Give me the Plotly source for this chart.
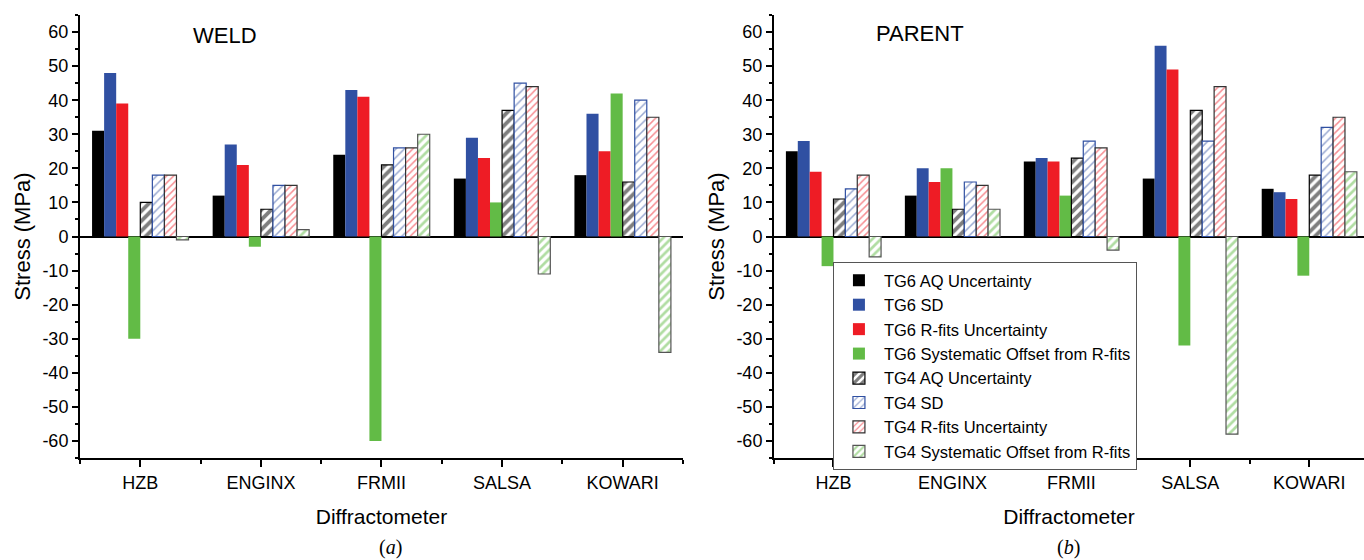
import plotly.graph_objects as go

instruments = ["HZB", "ENGINX", "FRMII", "SALSA", "KOWARI"]
series_names = [
    "TG6 AQ Uncertainty",
    "TG6 SD",
    "TG6 R-fits Uncertainty",
    "TG6 Systematic Offset from R-fits",
    "TG4 AQ Uncertainty",
    "TG4 SD",
    "TG4 R-fits Uncertainty",
    "TG4 Systematic Offset from R-fits",
]

# WELD panel (a)
weld_tg6_aq = [31, 12, 24, 17, 18]
weld_tg6_sd = [48, 27, 43, 29, 36]
weld_tg6_rfits = [39, 21, 41, 23, 25]
weld_tg6_offset = [-30, -3, -60, 10, 42]
weld_tg4_aq = [10, 8, 21, 37, 16]
weld_tg4_sd = [18, 15, 26, 45, 40]
weld_tg4_rfits = [18, 15, 26, 44, 35]
weld_tg4_offset = [-1, 2, 30, -11, -34]

# PARENT panel (b)
parent_tg6_aq = [25, 12, 22, 17, 14]
parent_tg6_sd = [28, 20, 23, 56, 13]
parent_tg6_rfits = [19, 16, 22, 49, 11]
parent_tg6_offset = [-8.7, 20, 12, -32, -11.5]
parent_tg4_aq = [11, 8, 23, 37, 18]
parent_tg4_sd = [14, 16, 28, 28, 32]
parent_tg4_rfits = [18, 15, 26, 44, 35]
parent_tg4_offset = [-6, 8, -4, -58, 19]

y_tick_values = [-60, -50, -40, -30, -20, -10, 0, 10, 20, 30, 40, 50, 60]
y_tick_labels = ["-60", "-50", "-40", "-30", "-20", "-10", "0", "10", "20", "30", "40", "50", "60"]

weld = [weld_tg6_aq, weld_tg6_sd, weld_tg6_rfits, weld_tg6_offset,
        weld_tg4_aq, weld_tg4_sd, weld_tg4_rfits, weld_tg4_offset]
parent = [parent_tg6_aq, parent_tg6_sd, parent_tg6_rfits, parent_tg6_offset,
          parent_tg4_aq, parent_tg4_sd, parent_tg4_rfits, parent_tg4_offset]

BLACK = "#000000"
BLUE = "#3050A2"
RED = "#EE1C25"
GREEN = "#62BB46"

styles = [
    dict(color=BLACK, line=dict(width=0)),
    dict(color=BLUE, line=dict(width=0)),
    dict(color=RED, line=dict(width=0)),
    dict(color=GREEN, line=dict(width=0)),
    dict(color="white", line=dict(color=BLACK, width=1.2),
         pattern=dict(shape="/", fgcolor=BLACK, bgcolor="white", size=7, solidity=0.55)),
    dict(color="white", line=dict(color=BLUE, width=1.2),
         pattern=dict(shape="/", fgcolor=BLUE, bgcolor="white", size=6, solidity=0.25)),
    dict(color="white", line=dict(color="#333333", width=1.2),
         pattern=dict(shape="/", fgcolor=RED, bgcolor="white", size=5, solidity=0.3)),
    dict(color="white", line=dict(color="#555555", width=1.2),
         pattern=dict(shape="/", fgcolor=GREEN, bgcolor="white", size=6, solidity=0.45)),
]

xpos = list(range(len(instruments)))

fig = go.Figure()
for i, name in enumerate(series_names):
    fig.add_trace(go.Bar(x=xpos, y=weld[i], name=name, marker=styles[i],
                         xaxis="x", yaxis="y", showlegend=False))
for i, name in enumerate(series_names):
    fig.add_trace(go.Bar(x=xpos, y=parent[i], name=name, marker=styles[i],
                         xaxis="x2", yaxis="y2", showlegend=True))

FONT = "Liberation Sans, Arial, sans-serif"

xcommon = dict(
    tickmode="array", tickvals=xpos, ticktext=instruments,
    showline=True, linecolor="black", linewidth=2,
    ticks="outside", ticklen=7, tickwidth=1.5, tickcolor="black",
    minor=dict(tickmode="array", tickvals=[-0.5, 0.5, 1.5, 2.5, 3.5, 4.5],
               ticks="outside", ticklen=4, tickwidth=1.5, tickcolor="black"),
    showgrid=False, zeroline=False,
    tickfont=dict(size=18, family=FONT, color="black"),
    title=dict(text="Diffractometer", font=dict(size=21, family=FONT, color="black"), standoff=18),
)
ycommon = dict(
    range=[-65, 65], tickmode="array", tickvals=y_tick_values, ticktext=y_tick_labels,
    showline=True, linecolor="black", linewidth=2,
    ticks="outside", ticklen=6, tickwidth=1.5, tickcolor="black",
    minor=dict(tickmode="array",
               tickvals=[v + 5 for v in y_tick_values[:-1]] + [-65, 65],
               ticks="outside", ticklen=3, tickwidth=1.5, tickcolor="black"),
    showgrid=False, zeroline=True, zerolinecolor="black", zerolinewidth=1.5,
    tickfont=dict(size=18, family=FONT, color="black"),
    title=dict(text="Stress (MPa)", font=dict(size=22, family=FONT, color="black"), standoff=6),
)

fig.update_layout(
    width=1364, height=560,
    margin=dict(l=80, r=0, t=15, b=102),
    paper_bgcolor="white", plot_bgcolor="white",
    barmode="group", bargap=0.2, bargroupgap=0,
    font=dict(family=FONT, color="black"),
    xaxis=dict(domain=[0, 0.4696], range=[-0.5, 4.5], anchor="y", **xcommon),
    yaxis=dict(anchor="x", **ycommon),
    xaxis2=dict(domain=[0.5405, 1.0], range=[-0.5, 4.46], anchor="y2", **xcommon),
    yaxis2=dict(anchor="x2", **ycommon),
    legend=dict(x=0.5864, y=0.4424, xanchor="left", yanchor="top",
                bgcolor="white", bordercolor="#555555", borderwidth=1,
                font=dict(size=16.5, family=FONT, color="black"),
                tracegroupgap=0, itemwidth=40),
    annotations=[
        dict(text="WELD", xref="paper", yref="paper", x=0.113, y=0.9526,
             xanchor="center", yanchor="middle",
             showarrow=False, font=dict(size=22, family=FONT, color="black")),
        dict(text="PARENT", xref="paper", yref="paper", x=0.654, y=0.959,
             xanchor="center", yanchor="middle",
             showarrow=False, font=dict(size=22, family=FONT, color="black")),
        dict(text="(<i>a</i>)", xref="paper", yref="paper", x=(390 - 80) / 1284, y=-0.201,
             xanchor="center", yanchor="middle",
             showarrow=False, font=dict(size=20, family="Liberation Serif, Times New Roman, serif", color="black")),
        dict(text="(<i>b</i>)", xref="paper", yref="paper", x=(1068 - 80) / 1284, y=-0.201,
             xanchor="center", yanchor="middle",
             showarrow=False, font=dict(size=20, family="Liberation Serif, Times New Roman, serif", color="black")),
    ],
)

fig.write_html("out.html")
